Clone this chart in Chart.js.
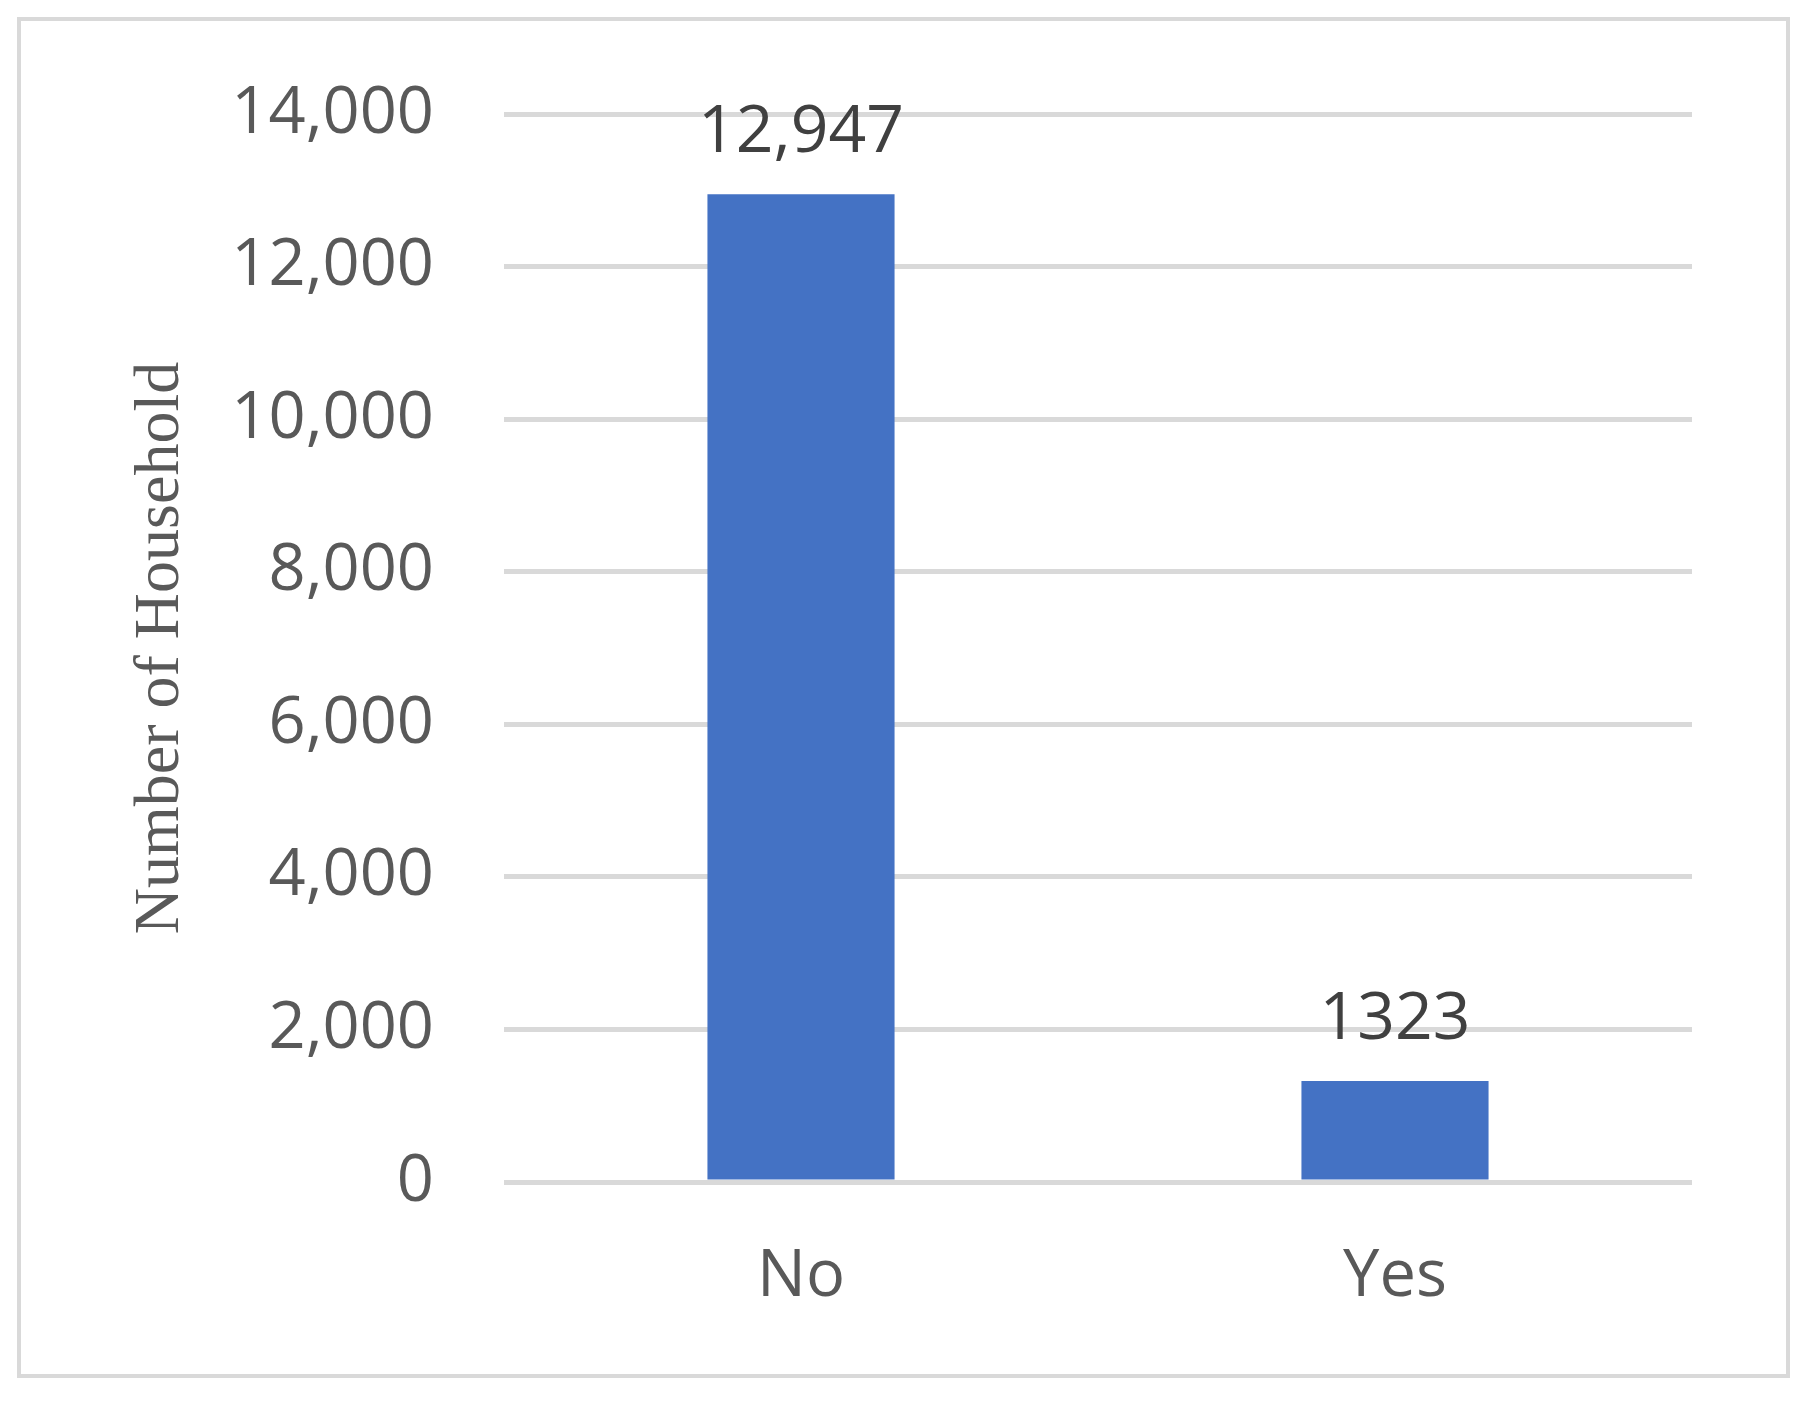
<!DOCTYPE html>
<html><head><meta charset="utf-8">
<script src="https://cdn.jsdelivr.net/npm/chart.js@4"></script>
<style>html,body{margin:0;padding:0;background:#fff}#w{width:1807px;height:1405px}</style>
</head><body><div id="w"><canvas id="c"></canvas></div>
<script>
const categories = ["No", "Yes"];
const households = [12947, 1323];
const dataLabels = ["12,947", "1323"];
const yTicks = [0, 2000, 4000, 6000, 8000, 10000, 12000, 14000];
const yTitle = "Number of Household";

const frame = {
  id: 'frame',
  afterDraw(chart) {
    const ctx = chart.ctx;
    ctx.save();
    ctx.strokeStyle = '#d9d9d9'; ctx.lineWidth = 4;
    ctx.strokeRect(19, 19, 1769, 1357);
    const meta = chart.getDatasetMeta(0);
    ctx.fillStyle = '#404040';
    ctx.font = '66px "Open Sans", "Liberation Sans", sans-serif';
    ctx.textAlign = 'center'; ctx.textBaseline = 'alphabetic';
    meta.data.forEach((bar, i) => ctx.fillText(dataLabels[i], bar.x, bar.y - 42));
    const ya = chart.scales.y;
    ctx.translate(161, (ya.top + ya.bottom) / 2);
    ctx.rotate(-Math.PI / 2);
    ctx.fillStyle = '#595959';
    ctx.font = '64px "Liberation Serif", serif';
    ctx.textBaseline = 'middle';
    ctx.fillText(yTitle, 0, 0);
    ctx.restore();
  }
};

new Chart(document.getElementById('c'), {
  type: 'bar',
  data: { labels: categories, datasets: [{ data: households, backgroundColor: '#4472c4', categoryPercentage: 0.315, barPercentage: 1 }] },
  options: {
    responsive: true, maintainAspectRatio: false, animation: false,
    layout: { padding: { top: 114, right: 115, bottom: 0, left: 0 } },
    plugins: { legend: { display: false }, tooltip: { enabled: false } },
    scales: {
      x: {
        grid: { display: false }, border: { display: false },
        ticks: { color: '#595959', font: { size: 65, family: '"Open Sans", "Liberation Sans", sans-serif' }, padding: 48 },
        afterFit(s) { s.height = 223; }
      },
      y: {
        min: 0, max: 14000,
        afterBuildTicks(s) { s.ticks = yTicks.map(v => ({ value: v })); },
        grid: { color: '#d9d9d9', lineWidth: 5, drawTicks: false },
        border: { display: false },
        ticks: { color: '#595959', padding: 70, font: { size: 65, family: '"Open Sans", "Liberation Sans", sans-serif' },
          callback: v => v.toLocaleString('en-US') },
        afterFit(s) { s.width = 504; }
      }
    }
  },
  plugins: [frame]
});
</script></body></html>
